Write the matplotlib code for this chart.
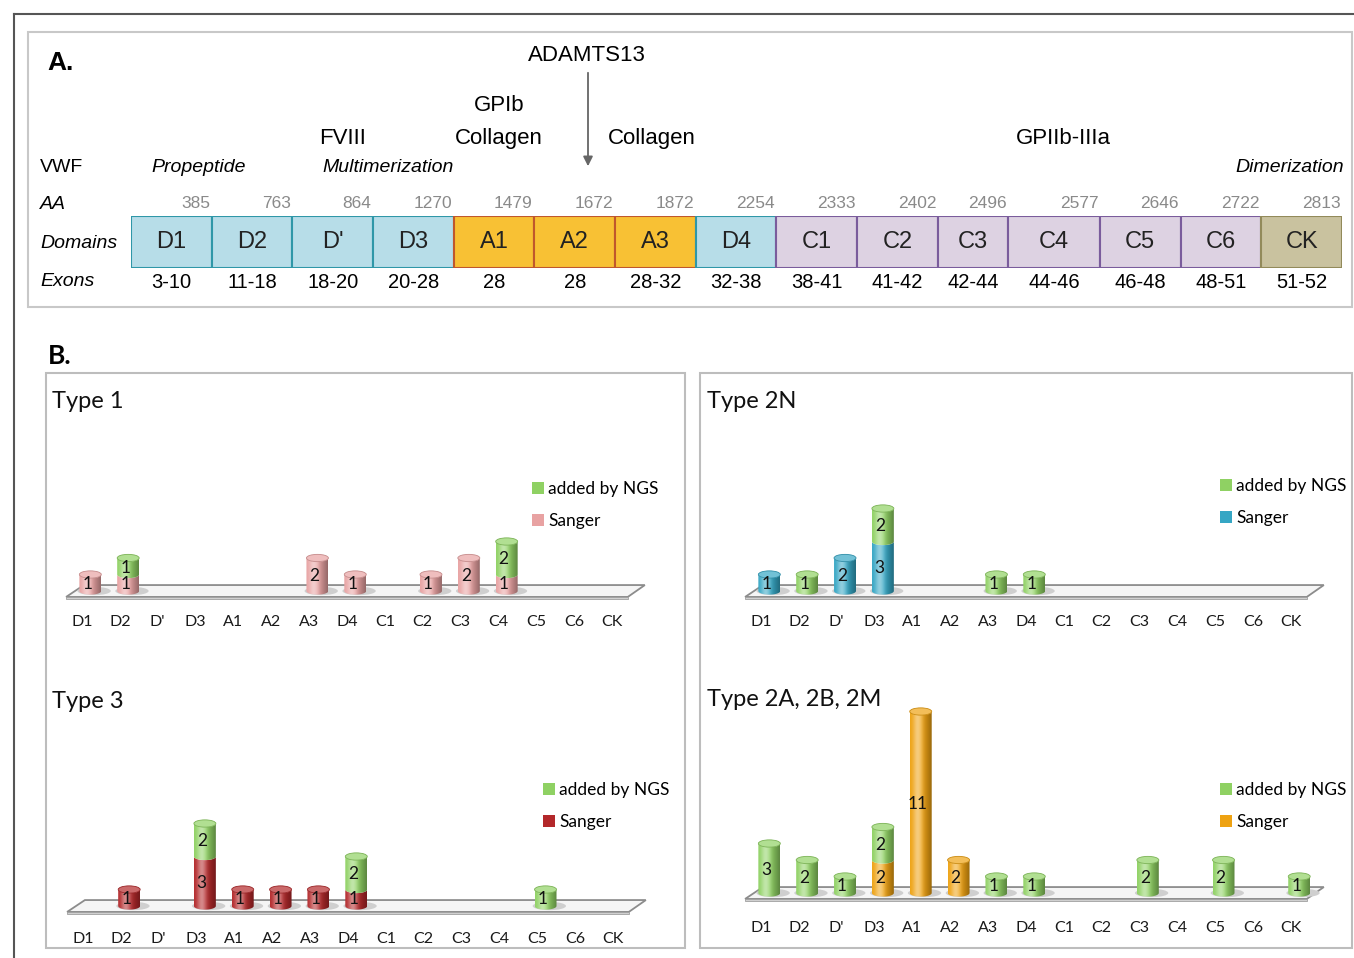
import numpy as np
import matplotlib
matplotlib.use("Agg")
import matplotlib.pyplot as plt
from matplotlib.colors import to_rgb
from matplotlib.patches import Polygon, Ellipse, Rectangle, Patch
from matplotlib.legend import Legend

# ---- panel A data ----
domains = ['D1', 'D2', "D'", 'D3', 'A1', 'A2', 'A3', 'D4', 'C1', 'C2', 'C3', 'C4', 'C5', 'C6', 'CK']
domain_group = ['D', 'D', 'D', 'D', 'A', 'A', 'A', 'D', 'C', 'C', 'C', 'C', 'C', 'C', 'K']
domain_widths = [1, 1, 1, 1, 1, 1, 1, 1, 1, 1, 0.87, 1.14, 1, 1, 1]
aa_ends = [385, 763, 864, 1270, 1479, 1672, 1872, 2254, 2333, 2402, 2496, 2577, 2646, 2722, 2813]
exons = ['3-10', '11-18', '18-20', '20-28', '28', '28', '28-32', '32-38', '38-41',
         '41-42', '42-44', '44-46', '46-48', '48-51', '51-52']

group_face = {'D': '#b7dde8', 'A': '#f8c134', 'C': '#ddd2e2', 'K': '#c9c29f'}
group_edge = {'D': '#2f97a8', 'A': '#c0572c', 'C': '#7a5c9c', 'K': '#928a5a'}

# ---- panel B data ----
categories = ['D1', 'D2', "D'", 'D3', 'A1', 'A2', 'A3', 'D4', 'C1', 'C2', 'C3', 'C4', 'C5', 'C6', 'CK']
type1_sanger = [1, 1, 0, 0, 0, 0, 2, 1, 0, 1, 2, 1, 0, 0, 0]
type1_ngs = [0, 1, 0, 0, 0, 0, 0, 0, 0, 0, 0, 2, 0, 0, 0]
type2n_sanger = [1, 0, 2, 3, 0, 0, 0, 0, 0, 0, 0, 0, 0, 0, 0]
type2n_ngs = [0, 1, 0, 2, 0, 0, 1, 1, 0, 0, 0, 0, 0, 0, 0]
type3_sanger = [0, 1, 0, 3, 1, 1, 1, 1, 0, 0, 0, 0, 0, 0, 0]
type3_ngs = [0, 0, 0, 2, 0, 0, 0, 2, 0, 0, 0, 0, 1, 0, 0]
type2a_sanger = [0, 0, 0, 2, 11, 2, 0, 0, 0, 0, 0, 0, 0, 0, 0]
type2a_ngs = [3, 2, 1, 2, 0, 0, 1, 1, 0, 0, 2, 0, 2, 0, 1]

ngs_color = '#8fd163'
W, H = 1354, 958
narrow = ['Liberation Sans Narrow', 'Liberation Sans', 'DejaVu Sans']
calib = ['Lato', 'DejaVu Sans']

fig = plt.figure(figsize=(W / 100, H / 100), dpi=100)
ov = fig.add_axes([0, 0, 1, 1])
ov.set_xlim(0, W)
ov.set_ylim(H, 0)
ov.axis('off')

# frames
ov.plot([14, W], [14, 14], color='#555555', lw=1.5)
ov.plot([14, 14], [14, H], color='#555555', lw=1.5)
ov.add_patch(Rectangle((28, 32), 1324, 275, fill=False, ec='#c8c8c8', lw=1.5))
ov.add_patch(Rectangle((46, 373), 639, 575, fill=False, ec='#bdbdbd', lw=1.5))
ov.add_patch(Rectangle((700, 373), 652, 575, fill=False, ec='#bdbdbd', lw=1.5))

# ---- panel A ----
ov.text(47, 63, 'A.', fontsize=19, fontweight='bold', family=['Liberation Sans'], va='center')
ov.text(587, 55, 'ADAMTS13', fontsize=16, family=narrow, ha='center', va='center')
ov.annotate('', xy=(588, 169), xytext=(588, 70),
            arrowprops=dict(arrowstyle='-|>', color='#666666', lw=1.3, mutation_scale=14))
ov.text(499, 105, 'GPIb', fontsize=16, family=narrow, ha='center', va='center')
ov.text(499, 138, 'Collagen', fontsize=16, family=narrow, ha='center', va='center')
ov.text(343, 138, 'FVIII', fontsize=16, family=narrow, ha='center', va='center')
ov.text(652, 138, 'Collagen', fontsize=16, family=narrow, ha='center', va='center')
ov.text(1063, 138, 'GPIIb-IIIa', fontsize=16, family=narrow, ha='center', va='center')
ov.text(199, 167, 'Propeptide', fontsize=14, style='italic', family=narrow, ha='center', va='center')
ov.text(388, 167, 'Multimerization', fontsize=14, style='italic', family=narrow, ha='center', va='center')
ov.text(1344, 167, 'Dimerization', fontsize=14, style='italic', family=narrow, ha='right', va='center')
ov.text(40, 167, 'VWF', fontsize=14, family=narrow, va='center')
ov.text(40, 204, 'AA', fontsize=14, style='italic', family=narrow, va='center')
ov.text(40, 243, 'Domains', fontsize=14, style='italic', family=narrow, va='center')
ov.text(40, 282, 'Exons', fontsize=14, style='italic', family=narrow, va='center')

dax = fig.add_axes([131 / W, 1 - 268 / H, (1342 - 131) / W, 52 / H])
lefts = np.concatenate([[0], np.cumsum(domain_widths)[:-1]])
dax.barh(0.5, domain_widths, left=lefts, height=1,
         color=[group_face[g] for g in domain_group],
         edgecolor=[group_edge[g] for g in domain_group], linewidth=1.5)
for i in range(len(domains)):
    c = lefts[i] + domain_widths[i] / 2
    dax.text(c, 0.5, domains[i], ha='center', va='center', fontsize=17, family=narrow, color='#222222')
    dax.text(c, -0.27, exons[i], ha='center', va='center', fontsize=14.5, family=narrow, color='#000000')
    dax.text(lefts[i] + domain_widths[i] - 0.02, 1.25, str(aa_ends[i]), ha='right', va='center',
             fontsize=12.5, family=narrow, color='#8a8a8a')
dax.set_xlim(0, sum(domain_widths))
dax.set_ylim(0, 1)
dax.axis('off')

# ---- panel B ----
ov.text(48, 356, 'B.', fontsize=19, fontweight='bold', family=calib, va='center')

SP = 37.85   # px per category
PU = 16.5    # px per count


def cylinder(ax, cx, y0, y1, color, r, e, top):
    t = np.linspace(0, 1, 40)
    base = np.array(to_rgb(color))
    light = np.exp(-((t - 0.35) / 0.22) ** 2)
    dark = np.clip((t - 0.5) / 0.5, 0, 1)
    col = base[None, :] * (1 - 0.35 * dark[:, None])
    col = col + (1 - col) * 0.45 * light[:, None]
    th = np.linspace(np.pi, 2 * np.pi, 30)
    bot = np.c_[cx + r * np.cos(th), y0 + e * np.sin(th)]
    tp = np.c_[cx + r * np.cos(th), y1 + e * np.sin(th)][::-1]
    poly = Polygon(np.vstack([bot, tp]), closed=True, fc='none', ec='none')
    ax.add_patch(poly)
    im = ax.imshow(col[None, :, :], extent=(cx - r, cx + r, y0 - e, y1),
                   aspect='auto', zorder=3, interpolation='bilinear')
    im.set_clip_path(poly)
    if top:
        lc = base + (1 - base) * 0.3
        ax.add_patch(Ellipse((cx, y1), 2 * r, 2 * e, fc=lc, ec=base * 0.85, lw=0.6, zorder=4))


def chart(x0, base_y, title, title_xy, leg_xy, sanger, ngs, scol, pad):
    left = x0 - 0.6 * SP
    bottom = base_y + 1.0 * PU
    ax = fig.add_axes([left / W, 1 - bottom / H, 15.5 * SP / W, 12.5 * PU / H])
    ax.patch.set_alpha(0)
    floor = Polygon([(-0.42, -0.36), (14.42, -0.36), (14.87, 0.36), (0.05, 0.36)],
                    closed=True, fc='#f5f5f5', ec='#8c8c8c', lw=1.3, zorder=1)
    ax.add_patch(floor)
    ax.add_patch(Polygon([(-0.42, -0.36), (14.42, -0.36), (14.42, -0.5), (-0.42, -0.5)],
                         closed=True, fc='#d0d0d0', ec='#a0a0a0', lw=0.6, zorder=1))
    r, e = 0.29, 0.22
    for i in range(len(categories)):
        cx = i + 0.22
        s, n = sanger[i], ngs[i]
        if s + n == 0:
            continue
        ax.add_patch(Ellipse((cx + 0.1, 0), 2 * r + 0.3, 0.5, fc='#cfcfcf', ec='none', zorder=2))
        if s:
            cylinder(ax, cx, 0, s, scol, r, e, n == 0)
            ax.text(cx - 0.08, s / 2 - 0.08, str(s), ha='center', va='center',
                    fontsize=12.5, family=calib, color='#111111', zorder=5)
        if n:
            cylinder(ax, cx, s, s + n, ngs_color, r, e, True)
            ax.text(cx - 0.08, s + n / 2 - 0.08, str(n), ha='center', va='center',
                    fontsize=12.5, family=calib, color='#111111', zorder=5)
    ax.set_xlim(-0.6, 14.9)
    ax.set_ylim(-1, 11.5)
    ax.set_xticks(range(len(categories)))
    ax.set_xticklabels(categories, family=calib, fontsize=11.5, color='#1a1a1a')
    ax.tick_params(axis='x', length=0, pad=pad)
    ax.set_yticks([])
    for sp in ax.spines.values():
        sp.set_visible(False)
    ov.text(title_xy[0], title_xy[1], title, fontsize=17, family=calib, va='center', color='#111111')
    handles = [Patch(fc=ngs_color, ec='none'), Patch(fc=scol, ec='none')]
    leg = Legend(ov, handles, ['added by NGS', 'Sanger'], loc='upper left', bbox_to_anchor=leg_xy,
                 bbox_transform=ov.transData, frameon=False, prop={'family': calib, 'size': 12.5},
                 labelspacing=0.95, handlelength=0.7, handleheight=0.7, handletextpad=0.25,
                 borderpad=0, borderaxespad=0)
    ov.add_artist(leg)


chart(82, 591, 'Type 1', (52, 402), (532, 481), type1_sanger, type1_ngs, '#e8a2a2', 5.5)
chart(761, 591, 'Type 2N', (707, 402), (1220, 478), type2n_sanger, type2n_ngs, '#35a6c4', 5.5)
chart(83, 906, 'Type 3', (52, 702), (543, 782), type3_sanger, type3_ngs, '#b3282a', 6.5)
chart(761, 893, 'Type 2A, 2B, 2M', (707, 700), (1220, 782), type2a_sanger, type2a_ngs, '#eea212', 8)

fig.savefig('out.png', dpi=100)
